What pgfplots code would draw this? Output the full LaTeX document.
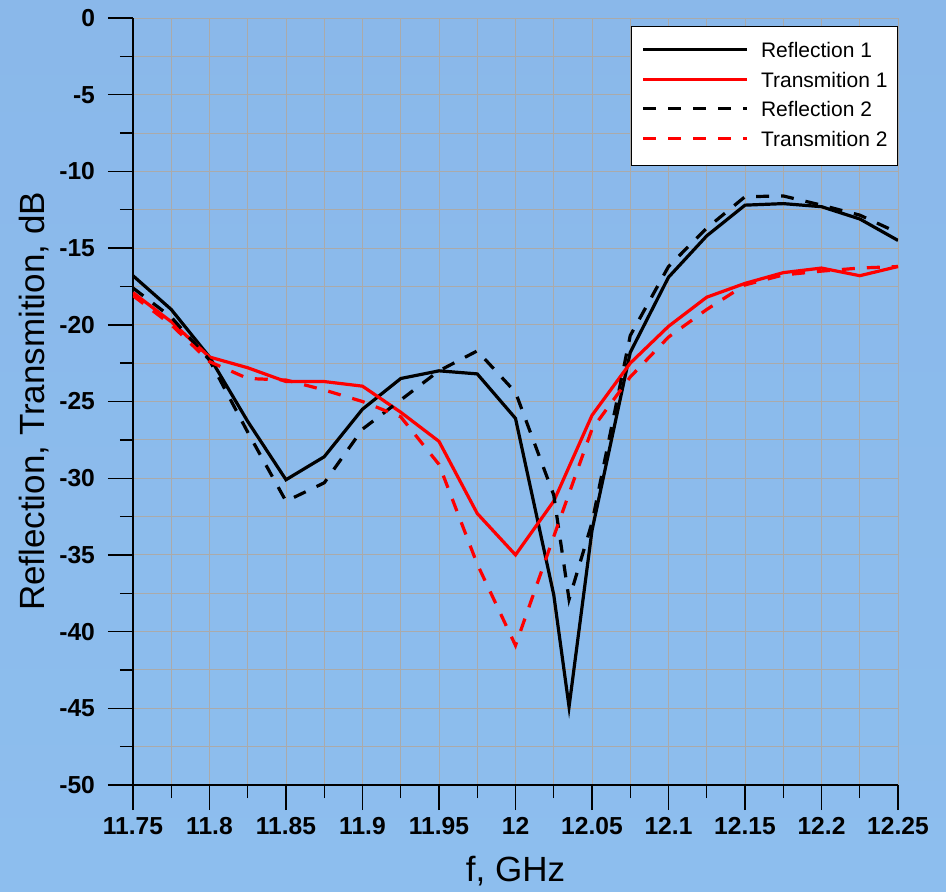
\documentclass[border=0pt]{standalone}
\usepackage{fontspec}
\setmainfont{Liberation Sans}
\usepackage{pgfplots}
\pgfplotsset{compat=1.18}
\definecolor{bgTop}{HTML}{8AB8EA}
\definecolor{bgMid}{HTML}{98CCFA}
\definecolor{bgBot}{HTML}{8DBEEE}
\definecolor{gridGray}{HTML}{AAAAAA}
\tikzset{dashR/.style={dash pattern=on 6.5pt off 6pt}}

\begin{document}
\begin{tikzpicture}
% background, 1 px = 0.5 pt
\shade[use as bounding box,top color=bgTop,middle color=bgMid,bottom color=bgBot]
  (-66.5pt,-53pt) rectangle (406.5pt,392.5pt);
\begin{axis}[
  at={(0,0)},anchor=south west,
  scale only axis,width=382.5pt,height=383.5pt,
  xmin=11.75,xmax=12.25,ymin=-50,ymax=0,
  axis x line*=bottom,axis y line*=left,
  axis line style={-,black,line width=0.75pt},
  xtick={11.75,11.8,11.85,11.9,11.95,12,12.05,12.1,12.15,12.2,12.25},
  ytick={0,-5,-10,-15,-20,-25,-30,-35,-40,-45,-50},
  minor x tick num=1,minor y tick num=1,
  tick align=outside,
  major tick length=12.5pt,minor tick length=6.5pt,
  tick style={black,line width=0.7pt},
  grid=both,
  major grid style={gridGray,line width=0.5pt},
  minor grid style={gridGray,line width=0.5pt},
  /pgf/number format/assume math mode=true,
  tick label style={font=\fontsize{12.3}{14}\selectfont\bfseries},
  xticklabel style={/pgf/number format/precision=2},
  yticklabel style={xshift=-3pt},
  xlabel={f, GHz},
  ylabel={Reflection, Transmition, dB},
  label style={font=\fontsize{17.5}{21}\selectfont},
  xlabel style={at={(axis description cs:0.5,-0.112)},anchor=center},
  ylabel style={at={(axis description cs:-0.1294,0.5)},anchor=center},
  legend cell align=left,
  legend image code/.code={\draw[#1] (0pt,1pt) -- (52pt,1pt);},
  legend style={at={(axis description cs:1,0.9896)},anchor=north east,
    draw=black,line width=0.5pt,fill=white,
    font=\fontsize{10.5}{12}\selectfont,
    inner xsep=5pt,inner ysep=7.5pt,row sep=4.85pt,
    nodes={inner sep=0pt,text height=8pt,text depth=2pt},
    /tikz/every odd column/.append style={column sep=6pt}},
  every axis plot/.append style={line width=1.6pt},
]
\addplot[black] coordinates {
(11.75,-16.8)(11.775,-19.0)(11.8,-22.1)(11.825,-26.3)(11.85,-30.1)(11.875,-28.6)
(11.9,-25.5)(11.925,-23.5)(11.95,-23.0)(11.975,-23.2)(12.0,-26.1)(12.025,-37.6)
(12.035,-44.9)(12.05,-33.4)(12.075,-21.8)(12.1,-16.9)(12.125,-14.2)(12.15,-12.2)
(12.175,-12.1)(12.2,-12.3)(12.225,-13.1)(12.25,-14.5)};
\addplot[red] coordinates {
(11.75,-17.9)(11.775,-19.8)(11.8,-22.1)(11.825,-22.8)(11.85,-23.7)(11.875,-23.7)
(11.9,-24.0)(11.925,-25.7)(11.95,-27.6)(11.975,-32.3)(12.0,-35.0)(12.025,-31.5)
(12.05,-25.9)(12.075,-22.5)(12.1,-20.1)(12.125,-18.2)(12.15,-17.3)(12.175,-16.6)
(12.2,-16.3)(12.225,-16.8)(12.25,-16.2)};
\addplot[black,dashR] coordinates {
(11.75,-17.6)(11.775,-19.5)(11.8,-22.3)(11.825,-27.0)(11.85,-31.5)(11.875,-30.3)
(11.9,-26.8)(11.925,-24.9)(11.95,-23.0)(11.975,-21.7)(12.0,-24.4)(12.025,-31.1)
(12.035,-37.9)(12.05,-32.9)(12.075,-20.7)(12.1,-16.2)(12.125,-13.7)(12.15,-11.65)
(12.175,-11.6)(12.2,-12.2)(12.225,-12.85)(12.25,-14.0)};
\addplot[red,dashR] coordinates {
(11.75,-18.1)(11.775,-20.0)(11.8,-22.4)(11.825,-23.5)(11.85,-23.6)(11.875,-24.25)
(11.9,-25.0)(11.925,-26.0)(11.95,-29.1)(11.975,-35.6)(12.0,-40.9)(12.025,-33.8)
(12.05,-26.8)(12.075,-23.4)(12.1,-20.8)(12.125,-19.0)(12.15,-17.4)(12.175,-16.75)
(12.2,-16.5)(12.225,-16.3)(12.25,-16.2)};
\legend{Reflection 1,Transmition 1,Reflection 2,Transmition 2}
\end{axis}
\end{tikzpicture}
\end{document}
